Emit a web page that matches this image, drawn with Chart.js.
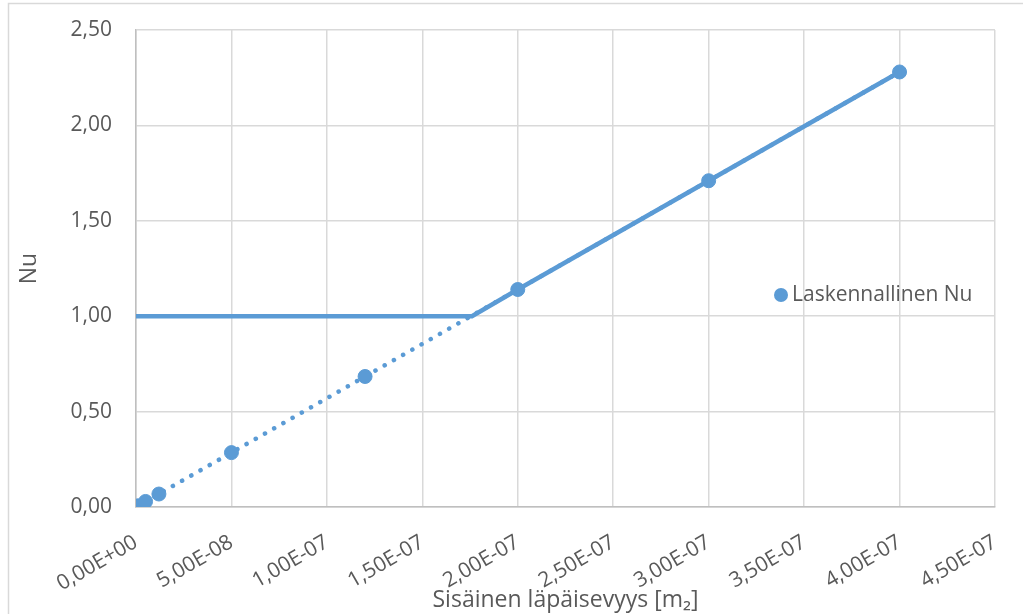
<!DOCTYPE html>
<html>
<head>
<meta charset="utf-8">
<script src="https://cdn.jsdelivr.net/npm/chart.js@4.4.1/dist/chart.umd.min.js"></script>
<style>
  html, body { margin: 0; padding: 0; background: #fff; }
  #wrap { width: 1023px; height: 614px; }
</style>
</head>
<body>
<div id="wrap"><canvas id="nuChart" width="1023" height="614"></canvas></div>
<script>
// sisäinen läpäisevyys [m2] ja laskennallinen Nu
var permeability = [1e-9, 5e-9, 1.2e-8, 5e-8, 1.2e-7, 2e-7, 3e-7, 4e-7];
var nuCalc = [0.006, 0.029, 0.068, 0.285, 0.684, 1.14, 1.71, 2.28];

// Nu = max(1, laskennallinen)
var limitX = [0, 1.76e-7, 2e-7, 3e-7, 4e-7];
var limitNu = [1.0, 1.0, 1.14, 1.71, 2.28];

// lineaarinen trendi
var trendX = [0, 4e-7];
var trendNu = [0, 2.28];

var xTicks = [0, 5e-8, 1e-7, 1.5e-7, 2e-7, 2.5e-7, 3e-7, 3.5e-7, 4e-7, 4.5e-7];
var yTicks = [0, 0.5, 1.0, 1.5, 2.0, 2.5];

var blue = '#5b9bd5';
var textCol = '#595959';
var fontName = "'Open Sans', sans-serif";

function pairs(xs, ys) {
    return xs.map(function (x, i) { return { x: x, y: ys[i] }; });
}

function sciLabel(v) {
    var s = Number(v).toExponential(2);       // 5.00e-8
    var parts = s.split('e');
    var exp = parseInt(parts[1], 10);
    var sign = exp < 0 ? '-' : '+';
    var e = String(Math.abs(exp));
    if (e.length < 2) e = '0' + e;
    return parts[0].replace('.', ',') + 'E' + sign + e;
}

var frame = {
    id: 'frame',
    beforeDraw: function (chart) {
        var c = chart.ctx;
        c.save();
        c.strokeStyle = '#d9d9d9';
        c.lineWidth = 1.5;
        c.strokeRect(8.5, 3.5, 1100, 700);
        c.restore();
    }
};

var sideLegend = {
    id: 'sideLegend',
    afterDraw: function (chart) {
        var c = chart.ctx;
        var ds = chart.data.datasets[0];
        c.save();
        c.fillStyle = blue;
        c.beginPath();
        c.arc(781, 295, 7, 0, Math.PI * 2);
        c.fill();
        c.fillStyle = textCol;
        c.font = '21px ' + fontName;
        c.textBaseline = 'middle';
        c.fillText(ds.label, 792, 295);
        c.restore();
    }
};

var ctx = document.getElementById('nuChart').getContext('2d');

var nuChart = new Chart(ctx, {
    type: 'scatter',
    data: {
        datasets: [
            {
                label: 'Laskennallinen Nu',
                data: pairs(permeability, nuCalc),
                backgroundColor: blue,
                borderColor: blue,
                pointRadius: 7,
                showLine: false,
                order: 1
            },
            {
                label: 'Trendi',
                data: pairs(trendX, trendNu),
                borderColor: blue,
                borderWidth: 4.5,
                borderDash: [0.1, 10.5],
                borderCapStyle: 'round',
                pointRadius: 0,
                showLine: true,
                order: 2
            },
            {
                label: 'Nu',
                data: pairs(limitX, limitNu),
                borderColor: blue,
                borderWidth: 4.5,
                pointRadius: 0,
                showLine: true,
                order: 3
            }
        ]
    },
    options: {
        responsive: false,
        animation: false,
        layout: { padding: { top: 30, right: 28, bottom: 0, left: 0 } },
        plugins: {
            legend: { display: false },
            tooltip: { enabled: false }
        },
        scales: {
            x: {
                type: 'linear',
                min: 0,
                max: 4.5e-7,
                afterBuildTicks: function (axis) {
                    axis.ticks = xTicks.map(function (v) { return { value: v }; });
                },
                afterFit: function (axis) {
                    axis.height = 107;
                    axis.paddingLeft = 0;
                    axis.paddingRight = 0;
                },
                grid: { color: '#d9d9d9', lineWidth: 1.5, drawTicks: false },
                border: { color: '#bfbfbf', width: 1.5 },
                ticks: {
                    minRotation: 30,
                    maxRotation: 30,
                    padding: 23,
                    color: textCol,
                    font: { family: fontName, size: 21 },
                    callback: function (v) { return sciLabel(v); }
                },
                title: {
                    display: true,
                    text: 'Sisäinen läpäisevyys [m₂]',
                    color: textCol,
                    font: { family: fontName, size: 23 },
                    padding: { top: 0, bottom: 0 }
                }
            },
            y: {
                min: 0,
                max: 2.5,
                afterBuildTicks: function (axis) {
                    axis.ticks = yTicks.map(function (v) { return { value: v }; });
                },
                afterFit: function (axis) {
                    axis.width = 136;
                    axis.paddingTop = 0;
                    axis.paddingBottom = 0;
                },
                grid: { color: '#d9d9d9', lineWidth: 1.5, drawTicks: false },
                border: { color: '#bfbfbf', width: 1.5 },
                ticks: {
                    padding: 24,
                    color: textCol,
                    font: { family: fontName, size: 21 },
                    callback: function (v) { return Number(v).toFixed(2).replace('.', ','); }
                },
                title: {
                    display: true,
                    text: 'Nu',
                    color: textCol,
                    font: { family: fontName, size: 23 },
                    padding: { top: 16, bottom: 0 }
                }
            }
        }
    },
    plugins: [frame, sideLegend]
});
</script>
</body>
</html>
